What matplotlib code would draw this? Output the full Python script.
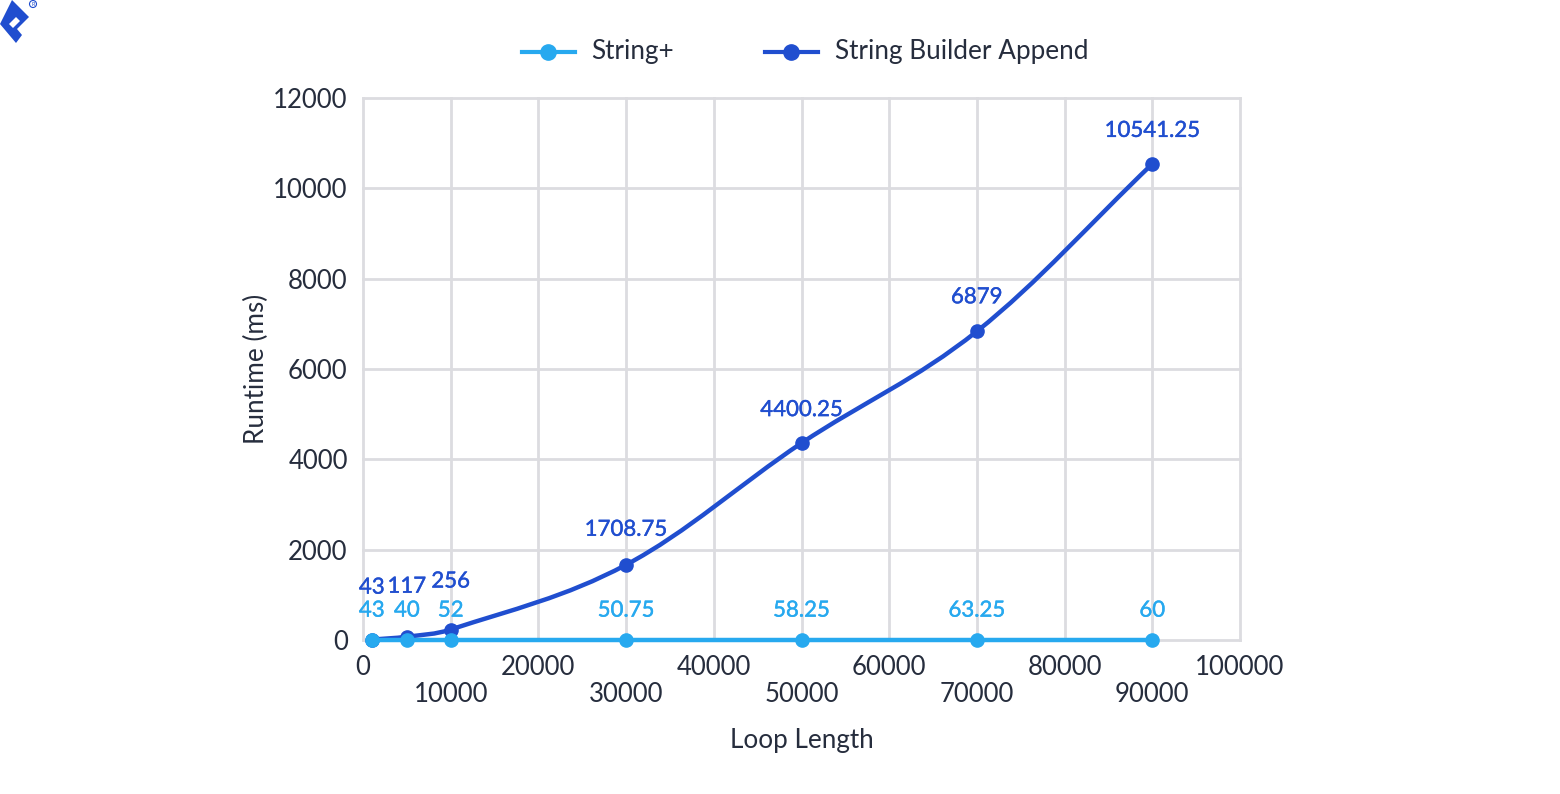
import matplotlib
matplotlib.use("Agg")
import matplotlib.pyplot as plt
import matplotlib.patheffects as pe
import numpy as np
from matplotlib.path import Path
from matplotlib.patches import PathPatch, Polygon, Circle

plt.rcParams['font.family'] = ['Lato', 'DejaVu Sans']

loop_length = [1000, 5000, 10000, 30000, 50000, 70000, 90000]
string_plus = [8, 8, 8, 8, 8, 8, 8]
string_builder = [8, 73, 232, 1665, 4360, 6835, 10541.25]
plus_labels = ['43', '40', '52', '50.75', '58.25', '63.25', '60']
builder_labels = ['43', '117', '256', '1708.75', '4400.25', '6879', '10541.25']
x_ticks = list(range(0, 100001, 10000))
y_ticks = list(range(0, 12001, 2000))

LIGHT = '#27a9ef'
DARK = '#204ecf'
TEXT = '#262d3d'
GRID = '#dcdce0'
W, H = 1560, 794


def smooth_path(xs, ys, tension=0.35):
    # bezier through the points, tangents taken from the neighbours
    xs = np.array(xs, dtype=float)
    ys = np.array(ys, dtype=float)
    verts = [(xs[0], ys[0])]
    codes = [Path.MOVETO]
    n = len(xs)
    for i in range(n - 1):
        p = max(i - 1, 0)
        q = min(i + 2, n - 1)
        dx = xs[i + 1] - xs[i]
        t0 = (ys[i + 1] - ys[p]) / (xs[i + 1] - xs[p])
        t1 = (ys[q] - ys[i]) / (xs[q] - xs[i])
        verts.append((xs[i] + dx * tension, ys[i] + t0 * dx * tension))
        verts.append((xs[i + 1] - dx * tension, ys[i + 1] - t1 * dx * tension))
        verts.append((xs[i + 1], ys[i + 1]))
        codes += [Path.CURVE4, Path.CURVE4, Path.CURVE4]
    return Path(verts, codes)


fig = plt.figure(figsize=(W / 100, H / 100), dpi=100)
ax = fig.add_axes([363 / W, 1 - 640 / H, (1240 - 363) / W, (640 - 98) / H])
ax.set_xlim(0, 100000)
ax.set_ylim(0, 12000)
ax.set_xticks(x_ticks)
ax.set_yticks(y_ticks)
ax.grid(True, color=GRID, lw=2, clip_on=False)
ax.set_axisbelow(True)
for s in ax.spines.values():
    s.set_visible(False)
ax.tick_params(axis='x', length=0, labelsize=18.5, labelcolor=TEXT, pad=11)
ax.tick_params(axis='y', length=0, labelsize=18.5, labelcolor=TEXT, pad=11)

# every second x label sits on a lower row
for i, lab in enumerate(ax.get_xticklabels()):
    lab.set_y(0 if i % 2 == 0 else -0.05)

ax.set_xlabel('Loop Length', fontsize=18.8, color=TEXT, labelpad=15)
ax.set_ylabel('Runtime (ms)', fontsize=18.8, color=TEXT)
ax.yaxis.set_label_coords((269 - 363) / (1240 - 363), 0.5)

ax.add_patch(PathPatch(smooth_path(loop_length, string_builder), fc='none', ec=DARK, lw=3.2, zorder=3, clip_on=False))
ax.plot(loop_length, string_builder, 'o', color=DARK, ms=9.5, zorder=4, clip_on=False)
ax.plot(loop_length, string_plus, '-o', color=LIGHT, lw=3.2, ms=9.5, zorder=5, clip_on=False)

builder_offsets = [52, 50, 48, 35, 33, 34, 33]
for x, y, lab, off in zip(loop_length, string_builder, builder_labels, builder_offsets):
    ax.annotate(lab, (x, y), xytext=(0, off * 0.72), textcoords='offset points', ha='center', va='center',
                fontsize=16, color=DARK, path_effects=[pe.withStroke(linewidth=0.3, foreground=DARK)])
for x, y, lab in zip(loop_length, string_plus, plus_labels):
    ax.annotate(lab, (x, y), xytext=(0, 29 * 0.72), textcoords='offset points', ha='center', va='center',
                fontsize=16, color=LIGHT, path_effects=[pe.withStroke(linewidth=0.3, foreground=LIGHT)])

# legend, placed by hand
leg = fig.add_axes([0, 0, 1, 1], facecolor='none')
leg.set_xlim(0, W)
leg.set_ylim(H, 0)
leg.axis('off')
leg.plot([522, 575], [52, 52], '-', color=LIGHT, lw=3)
leg.plot([548], [52], 'o', color=LIGHT, ms=11)
leg.text(591, 51, 'String+', fontsize=18.8, color=TEXT, va='center')
leg.plot([765, 818], [52, 52], '-', color=DARK, lw=3)
leg.plot([791], [52], 'o', color=DARK, ms=11)
leg.text(835, 51, 'String Builder Append', fontsize=18.8, color=TEXT, va='center')

# logo in the top left corner
outer = [(12, 0), (29, 17), (17, 29), (22, 35), (16, 43), (0, 24)]
hole = [(9, 24), (16, 17), (20, 21), (13, 28)]
leg.add_patch(Polygon(outer, closed=True, fc=DARK, ec='none'))
leg.add_patch(Polygon(hole, closed=True, fc='white', ec='none'))
leg.add_patch(Circle((33, 4), 3.5, fc='none', ec=DARK, lw=0.8))
leg.text(33, 4, 'R', fontsize=4, color=DARK, ha='center', va='center')

fig.savefig('out.png', dpi=100, facecolor='white')
